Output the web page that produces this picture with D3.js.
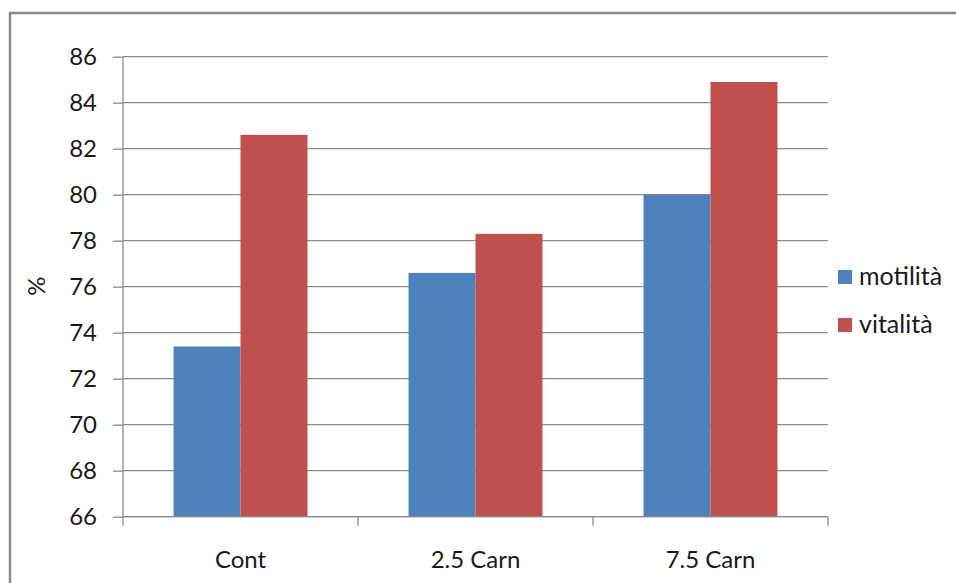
<!DOCTYPE html>
<html>
<head>
<meta charset="utf-8">
<script src="https://cdn.jsdelivr.net/npm/d3@7"></script>
<style>
  html, body { margin: 0; padding: 0; background: #fff; }
  svg { display: block; }
  text { font-family: Lato, "Open Sans", "DejaVu Sans", sans-serif; fill: #1a1a1a; }
</style>
</head>
<body>
<svg id="chart" width="956" height="583"></svg>
<script>
// Categories, series and values
const categories = ["Cont", "2.5 Carn", "7.5 Carn"];
const seriesNames = ["motilità", "vitalità"];
const motilita = [73.4, 76.6, 80.0];
const vitalita = [82.6, 78.3, 84.9];
const yTicks = [66, 68, 70, 72, 74, 76, 78, 80, 82, 84, 86];
const colors = ["#4F81BD", "#C0504D"];

const seriesValues = [motilita, vitalita];

const svg = d3.select("#chart");

// Outer chart frame (continues past the right and bottom edges)
svg.append("rect")
  .attr("x", 10).attr("y", 13)
  .attr("width", 1000).attr("height", 1000)
  .attr("fill", "none")
  .attr("stroke", "#8a8a8a")
  .attr("stroke-width", 2.5);

const plot = { left: 123, right: 828, top: 56.7, bottom: 516.7 };

const y = d3.scaleLinear()
  .domain([66, 86])
  .range([plot.bottom, plot.top]);

const x = d3.scaleBand()
  .domain(categories)
  .range([plot.left, plot.right])
  .paddingInner(0)
  .paddingOuter(0);

const x1 = d3.scaleBand()
  .domain(seriesNames)
  .range([0, x.bandwidth()])
  .paddingOuter(0.755)
  .paddingInner(0);

// Horizontal gridlines
svg.append("g")
  .selectAll("line")
  .data(yTicks)
  .join("line")
  .attr("x1", plot.left).attr("x2", plot.right)
  .attr("y1", d => y(d)).attr("y2", d => y(d))
  .attr("stroke", "#8c8c8c")
  .attr("stroke-width", 1.3);

// Bars
const groups = svg.append("g")
  .selectAll("g")
  .data(categories)
  .join("g")
  .attr("transform", d => `translate(${x(d)},0)`);

groups.selectAll("rect")
  .data((c, i) => seriesNames.map((s, j) => ({ s, v: seriesValues[j][i], j })))
  .join("rect")
  .attr("x", d => x1(d.s))
  .attr("width", x1.bandwidth())
  .attr("y", d => y(d.v))
  .attr("height", d => plot.bottom - y(d.v))
  .attr("fill", d => colors[d.j]);

// Y axis
const yAxis = d3.axisLeft(y)
  .tickValues(yTicks)
  .tickSize(10)
  .tickPadding(16)
  .tickFormat(d3.format("d"));

const gy = svg.append("g")
  .attr("transform", `translate(${plot.left},0)`)
  .call(yAxis);
gy.select(".domain").attr("stroke", "#8c8c8c").attr("stroke-width", 1.3)
  .attr("d", `M0,${plot.top}V${plot.bottom + 0.5}`);
gy.selectAll(".tick line").attr("stroke", "#8c8c8c").attr("stroke-width", 1.3);
gy.selectAll(".tick text")
  .style("font-family", "Lato, 'Open Sans', sans-serif")
  .style("font-size", "24px")
  .attr("fill", "#1a1a1a");

// X axis
const xAxis = d3.axisBottom(x).tickSize(0).tickPadding(34);
const gx = svg.append("g")
  .attr("transform", `translate(0,${plot.bottom})`)
  .call(xAxis);
gx.select(".domain").attr("stroke", "#8c8c8c").attr("stroke-width", 1.3)
  .attr("d", `M${plot.left},0H${plot.right}`);
gx.selectAll(".tick text")
  .style("font-family", "Lato, 'Open Sans', sans-serif")
  .style("font-size", "24px")
  .attr("fill", "#1a1a1a");

// Category boundary tick marks
const boundaries = categories.map(c => x(c)).concat([x.range()[1]]);
svg.append("g")
  .selectAll("line")
  .data(boundaries)
  .join("line")
  .attr("x1", d => d).attr("x2", d => d)
  .attr("y1", plot.bottom).attr("y2", plot.bottom + 9)
  .attr("stroke", "#8c8c8c")
  .attr("stroke-width", 1.3);

// Y axis title
svg.append("text")
  .attr("transform", "translate(45,286) rotate(-90)")
  .attr("text-anchor", "middle")
  .style("font-size", "24px")
  .text("%");

// Legend
const legend = svg.append("g")
  .selectAll("g")
  .data(seriesNames)
  .join("g")
  .attr("transform", (d, i) => `translate(838,${270 + i * 48})`);
legend.append("rect")
  .attr("width", 14).attr("height", 14)
  .attr("fill", (d, i) => colors[i]);
legend.append("text")
  .attr("x", 21).attr("y", 15)
  .style("font-size", "25px")
  .text(d => d);
</script>
</body>
</html>
